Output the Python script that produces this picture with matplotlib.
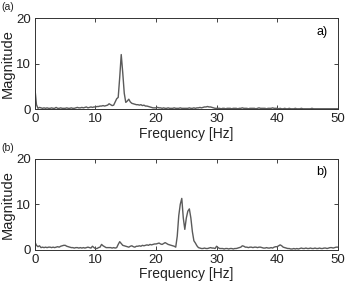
"""Two magnitude spectra, MATLAB-style panels"""
import numpy as np
import matplotlib
matplotlib.use("Agg")
import matplotlib.pyplot as plt

# -----------------------------------------------------------------------------
# Data (frequency step 0.25 Hz, 0..50 Hz)

freq = np.arange(201) * 0.25

mag_a = [
    4.5, 1.0, 0.2, 0.4, 0.3, 0.2, 0.3, 0.2, 0.3, 0.2,   # 0 - 2.25
    0.2, 0.3, 0.2, 0.2, 0.4, 0.2, 0.2, 0.3, 0.2, 0.2,   # 2.5 - 4.75
    0.2, 0.3, 0.2, 0.2, 0.3, 0.2, 0.2, 0.3, 0.4, 0.3,   # 5 - 7.25
    0.3, 0.4, 0.3, 0.4, 0.5, 0.3, 0.4, 0.5, 0.4, 0.5,   # 7.5 - 9.75
    0.5, 0.6, 0.6, 0.7, 0.7, 0.8, 0.7, 0.8, 0.9, 1.2,   # 10 - 12.25
    1.0, 0.8, 0.9, 1.6, 2.3, 2.6, 7.0, 12.0, 8.0, 3.5,  # 12.5 - 14.75
    1.5, 1.8, 2.2, 1.6, 1.3, 1.2, 1.1, 1.0, 1.0, 0.9,   # 15 - 17.25
    1.0, 0.8, 0.9, 0.7, 0.7, 0.6, 0.5, 0.4, 0.3, 0.3,   # 17.5 - 19.75
    0.3, 0.4, 0.3, 0.3, 0.2, 0.3, 0.2, 0.2, 0.3, 0.2,   # 20 - 22.25
    0.2, 0.2, 0.3, 0.2, 0.2, 0.2, 0.3, 0.2, 0.2, 0.2,   # 22.5 - 24.75
    0.2, 0.2, 0.3, 0.2, 0.2, 0.3, 0.2, 0.3, 0.3, 0.4,   # 25 - 27.25
    0.3, 0.4, 0.5, 0.5, 0.6, 0.5, 0.5, 0.4, 0.3, 0.2,   # 27.5 - 29.75
    0.2, 0.2, 0.2, 0.1, 0.2, 0.2, 0.1, 0.2, 0.2, 0.2,   # 30 - 32.25
    0.1, 0.2, 0.2, 0.2, 0.1, 0.2, 0.2, 0.3, 0.2, 0.2,   # 32.5 - 34.75
    0.2, 0.1, 0.2, 0.2, 0.2, 0.2, 0.1, 0.2, 0.3, 0.2,   # 35 - 37.25
    0.2, 0.2, 0.2, 0.1, 0.2, 0.2, 0.2, 0.3, 0.2, 0.2,   # 37.5 - 39.75
    0.2, 0.1, 0.2, 0.1, 0.1, 0.2, 0.1, 0.1, 0.2, 0.1,   # 40 - 42.25
    0.1, 0.1, 0.2, 0.1, 0.1, 0.1, 0.2, 0.1, 0.1, 0.1,   # 42.5 - 44.75
    0.1, 0.1, 0.1, 0.2, 0.1, 0.1, 0.1, 0.1, 0.1, 0.1,   # 45 - 47.25
    0.1, 0.1, 0.1, 0.1, 0.1, 0.1, 0.1, 0.1, 0.1, 0.1,   # 47.5 - 49.75
    0.1,                                                # 50
]

mag_b = [
    1.7, 1.0, 0.7, 0.9, 0.5, 0.6, 0.5, 0.6, 0.5, 0.6,   # 0 - 2.25
    0.6, 0.5, 0.6, 0.5, 0.6, 0.7, 0.6, 0.8, 0.9, 1.0,   # 2.5 - 4.75
    1.0, 0.8, 0.7, 0.6, 0.5, 0.5, 0.4, 0.5, 0.5, 0.4,   # 5 - 7.25
    0.5, 0.4, 0.5, 0.4, 0.5, 0.6, 0.5, 0.4, 0.8, 0.5,   # 7.5 - 9.75
    0.3, 0.3, 0.5, 0.6, 1.2, 0.9, 0.7, 0.5, 0.5, 0.5,   # 10 - 12.25
    0.5, 0.4, 0.5, 0.4, 0.5, 1.2, 1.8, 1.4, 1.0, 0.9,   # 12.5 - 14.75
    0.8, 0.7, 0.6, 0.8, 0.9, 0.7, 0.6, 0.8, 0.8, 0.9,   # 15 - 17.25
    0.8, 1.0, 0.9, 1.0, 1.1, 1.0, 1.2, 1.1, 1.2, 1.3,   # 17.5 - 19.75
    1.3, 1.4, 1.5, 1.3, 1.2, 1.4, 1.6, 1.4, 1.2, 1.1,   # 20 - 22.25
    1.0, 0.9, 0.8, 0.6, 3.0, 7.5, 10.0, 11.3, 7.0, 4.5, # 22.5 - 24.75
    7.0, 8.5, 9.0, 7.0, 4.0, 2.0, 1.5, 0.9, 0.5, 0.4,   # 25 - 27.25
    0.3, 0.3, 0.4, 0.3, 0.3, 0.4, 0.5, 0.4, 0.4, 0.3,   # 27.5 - 29.75
    0.8, 0.5, 0.3, 0.3, 0.3, 0.2, 0.3, 0.3, 0.2, 0.3,   # 30 - 32.25
    0.3, 0.2, 0.3, 0.3, 0.4, 0.5, 0.6, 0.9, 0.8, 0.6,   # 32.5 - 34.75
    0.6, 0.5, 0.6, 0.6, 0.5, 0.6, 0.6, 0.5, 0.6, 0.6,   # 35 - 37.25
    0.5, 0.4, 0.4, 0.5, 0.4, 0.4, 0.5, 0.4, 0.6, 0.7,   # 37.5 - 39.75
    0.7, 0.9, 1.1, 0.9, 0.6, 0.5, 0.4, 0.3, 0.3, 0.2,   # 40 - 42.25
    0.2, 0.3, 0.2, 0.3, 0.2, 0.3, 0.4, 0.3, 0.3, 0.4,   # 42.5 - 44.75
    0.3, 0.3, 0.4, 0.3, 0.3, 0.4, 0.3, 0.3, 0.4, 0.3,   # 45 - 47.25
    0.3, 0.4, 0.4, 0.3, 0.4, 0.5, 0.5, 0.4, 0.5, 0.6,   # 47.5 - 49.75
    0.6,                                                # 50
]

panels = [("(a)", "a)", mag_a), ("(b)", "b)", mag_b)]
xticks = [0, 10, 20, 30, 40, 50]
yticks = [0, 10, 20]

# -----------------------------------------------------------------------------
# Plot

plt.rcParams["font.family"] = ["Liberation Sans", "DejaVu Sans"]

fig = plt.figure(figsize=(3.46, 2.83), dpi=100)
positions = [[0.101, 0.614, 0.875, 0.322], [0.101, 0.117, 0.875, 0.322]]

for pos, (tag, inner, mag) in zip(positions, panels):
    ax = fig.add_axes(pos)
    ax.plot(freq, mag, color="#5a5a5a", lw=1.0)
    ax.set_xlim(0, 50)
    ax.set_ylim(0, 20)
    ax.set_xticks(xticks)
    ax.set_yticks(yticks)
    ax.tick_params(direction="in", length=3, width=0.6, labelsize=9.5,
                   top=True, right=True, colors="#222222")
    ax.tick_params(axis="x", pad=3)
    ax.tick_params(axis="y", pad=3)
    for s in ax.spines.values():
        s.set_linewidth(0.7)
        s.set_color("#333333")
    ax.set_xlabel("Frequency [Hz]", fontsize=10, labelpad=1, color="#222222")
    ax.set_ylabel("Magnitude", fontsize=10.5, labelpad=1, color="#222222")
    ax.text(0.947, 0.85, inner, transform=ax.transAxes, fontsize=9,
            ha="center", va="center")
    fig.text(0.005, pos[1] + pos[3] + 0.057, tag, fontsize=7.5,
             ha="left", va="top", color="#222222")

fig.savefig("out.png", dpi=100)
